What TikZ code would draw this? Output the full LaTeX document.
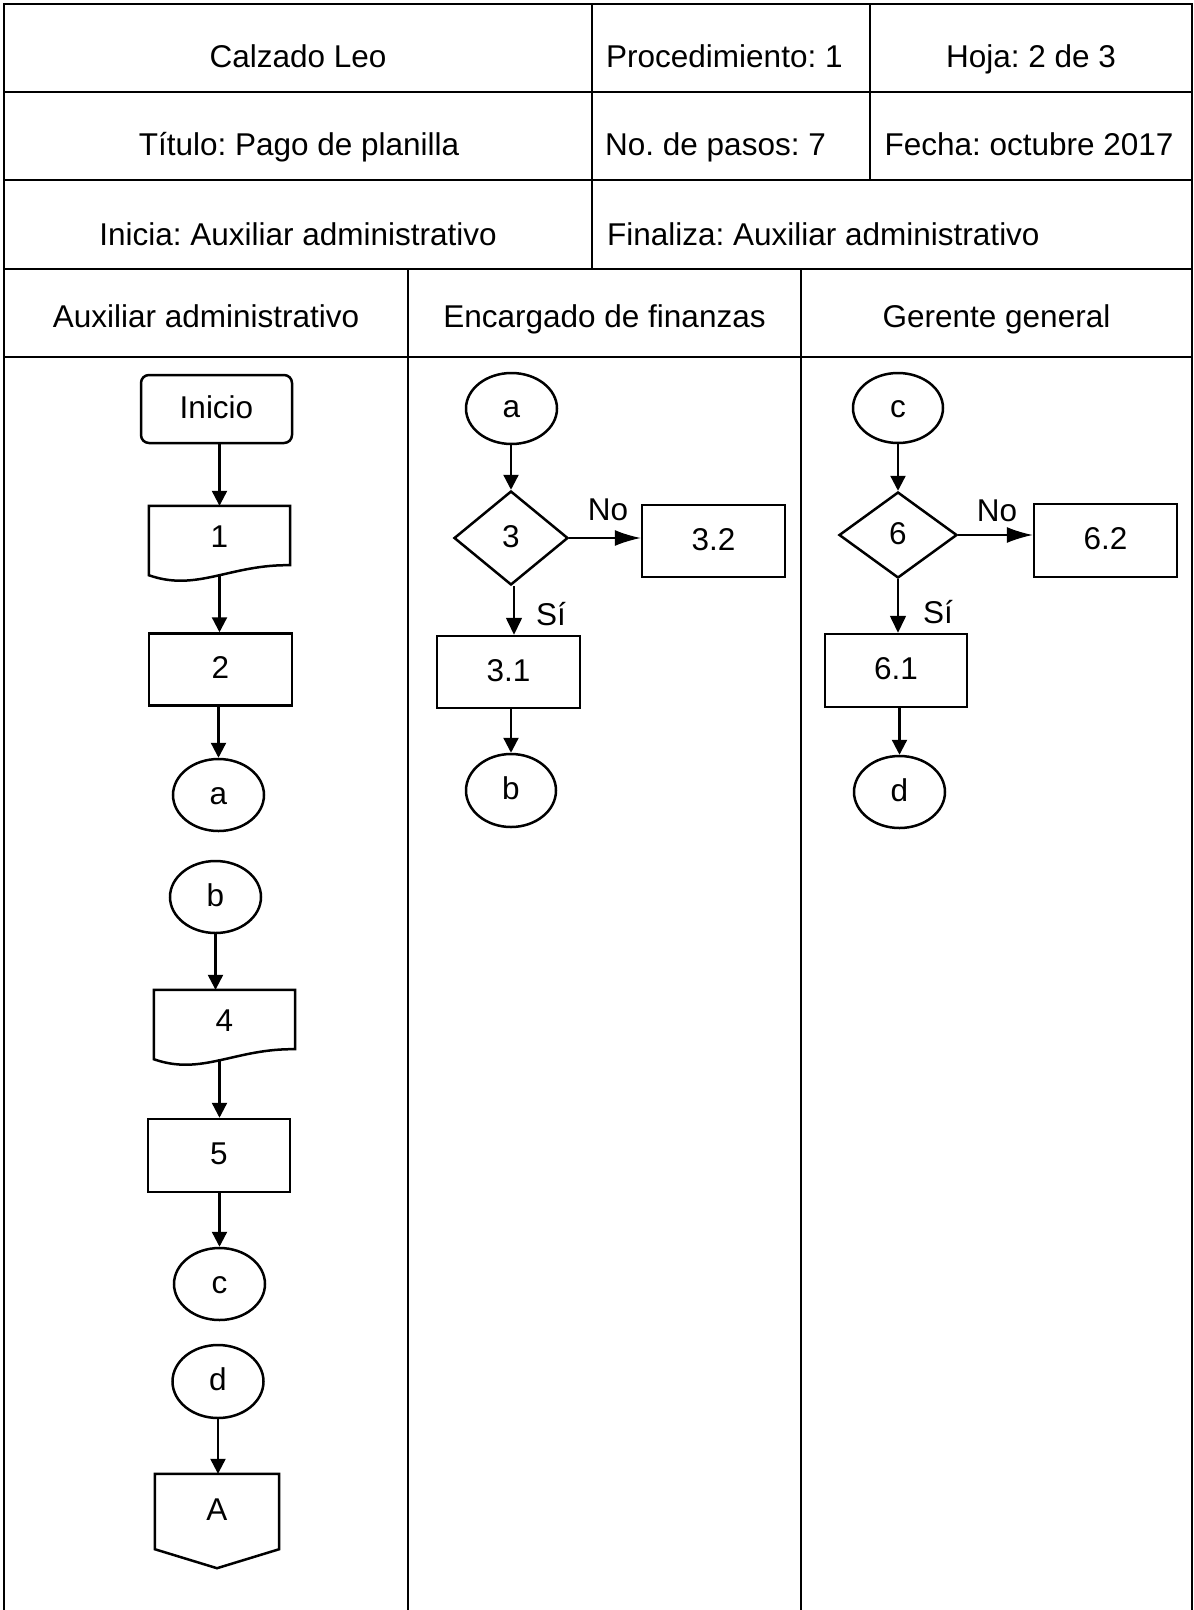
\documentclass[tikz,border=0pt]{standalone}
\usepackage{fontspec}
\setmainfont{Liberation Sans}
\frenchspacing
\usetikzlibrary{shapes.geometric,arrows.meta,calc}

% wavy-bottom document outline around a named node
\newcommand\docoutline[1]{%
  \draw[shapeline, line join=miter] (#1.north west) -- (#1.north east)
    -- ($(#1.south east)+(0,-13)$)
    .. controls ($(#1.south east)+(-60,-14)$) and ($(#1.south west)+(48,14)$) ..
    ($(#1.south west)+(0,-3)$) -- cycle;}
% off-page connector outline around a named node
\newcommand\offpageoutline[1]{%
  \draw[shapeline, line join=miter] (#1.north west) -- (#1.north east)
    -- (#1.south east) -- ($(#1.south)+(0,19)$) -- (#1.south west) -- cycle;}

\begin{document}
\begin{tikzpicture}[x=1pt,y=-1pt,
  every node/.style={font=\fontsize{31.5}{38}\selectfont, inner sep=0pt},
  grid/.style={line width=2.8pt},
  shapeline/.style={line width=2.5pt},
  inner/.style={text height=25pt, text depth=7pt},
  procbox/.style={inner, draw, shapeline, rectangle, minimum width=143pt, minimum height=72pt},
  terminal/.style={inner, draw, shapeline, rectangle, rounded corners=8pt, minimum width=151pt, minimum height=68pt},
  connector/.style={inner, draw, shapeline, ellipse, minimum width=91pt, minimum height=72pt},
  decision/.style={inner, draw, shapeline, diamond, minimum width=116pt, minimum height=92pt},
  docbox/.style={rectangle, text height=20pt, text depth=10pt, minimum width=141pt, minimum height=72pt},
  offpage/.style={inner, rectangle, minimum width=124pt, minimum height=75pt},
  flow/.style={line width=2.3pt, -{Triangle[length=15pt,width=15pt]}},
  nobranch/.style={line width=1.6pt, -{Latex[length=26pt,width=16pt]}},
  yesbranch/.style={line width=1.6pt, -{Triangle[length=17pt,width=16pt]}},
  lbl/.style={anchor=base}
]
\useasboundingbox (0,0) rectangle (1194,1610);

% ---- header table ----
\draw[grid] (4,1610) -- (4,4) -- (1192,4) -- (1192,1610);
\draw[grid] (4,92) -- (1192,92);
\draw[grid] (4,180) -- (1192,180);
\draw[grid] (4,269) -- (1192,269);
\draw[grid] (4,357) -- (1192,357);
\draw[grid] (592,4) -- (592,269);
\draw[grid] (870,4) -- (870,180);
\draw[grid] (408,269) -- (408,1610);
\draw[grid] (801,269) -- (801,1610);

\node[anchor=base] (empresa) at (298,67) {Calzado Leo};
\node[anchor=base west] (proc) at (606,67) {Procedimiento: 1};
\node[anchor=base] (hoja) at (1031,67) {Hoja: 2 de 3};
\node[anchor=base] (titulo) at (299,155) {Título: Pago de planilla};
\node[anchor=base west] (pasos) at (605,155) {No. de pasos: 7};
\node[anchor=base] (fecha) at (1029,155) {Fecha: octubre 2017};
\node[anchor=base] (inicia) at (298,245) {Inicia: Auxiliar administrativo};
\node[anchor=base west] (finaliza) at (607,245) {Finaliza: Auxiliar administrativo};
\node[anchor=base] (lane1) at (206,327) {Auxiliar administrativo};
\node[anchor=base] (lane2) at (604.5,327) {Encargado de finanzas};
\node[anchor=base] (lane3) at (996.5,327) {Gerente general};

% ---- lane 1: Auxiliar administrativo ----
\node[terminal] (inicio) at (216.5,409) {Inicio};
\node[docbox] (p1) at (219.5,542) {1};
\docoutline{p1}
\node[procbox] (p2) at (220.5,669.5) {2};
\node[connector] (la) at (218.5,795) {a};
\node[connector] (lb) at (215.5,897) {b};
\node[docbox] (p4) at (224.5,1026) {4};
\docoutline{p4}
\node[procbox, minimum width=142pt, minimum height=73pt] (p5) at (219,1155.5) {5};
\node[connector] (lc) at (219.5,1284) {c};
\node[connector, minimum height=73pt] (ld) at (218,1381.5) {d};
\node[offpage] (fin) at (217,1511.5) {A};
\offpageoutline{fin}

\draw[flow] (inicio.south -| p1.north) -- (p1.north);
\draw[flow] ($(p1.south)+(0,-3)$) -- (p1.south |- p2.north);
\draw[flow] (p2.south -| la.north) -- (la.north);
\draw[flow] (lb.south) -- (lb.south |- p4.north);
\draw[flow] ($(p4.south)+(-5,-3)$) -- ($(p4.south |- p5.north)+(-5,0)$);
\draw[flow] (p5.south -| lc.north) -- (lc.north);
\draw[flow] (ld.south) -- (ld.south |- fin.north);

% ---- lane 2: Encargado de finanzas ----
\node[connector, minimum height=71pt] (ma) at (511.5,408.5) {a};
\node[decision, minimum width=114pt, minimum height=94pt] (q3) at (511,538) {3};
\node[procbox] (p32) at (713.5,541) {3.2};
\node[procbox] (p31) at (508.5,672) {3.1};
\node[connector, minimum width=90pt, minimum height=73pt] (mb) at (511,790.5) {b};

\draw[flow] (ma.south -| q3.north) -- (q3.north);
\draw[nobranch] (q3.east) -- (q3.east -| p32.west);
\node[lbl] (no3) at (608,520) {No};
\draw[yesbranch] ($(q3.south)+(3,0)$) -- ($(q3.south |- p31.north)+(3,0)$);
\node[lbl] (si3) at (551,625) {Sí};
\draw[flow] (p31.south -| mb.north) -- (mb.north);

% ---- lane 3: Gerente general ----
\node[connector, minimum width=90pt, minimum height=70pt] (gc) at (898,408) {c};
\node[decision, minimum width=118pt, minimum height=86pt] (q6) at (898,535) {6};
\node[procbox, minimum height=73pt] (p62) at (1105.5,540.5) {6.2};
\node[procbox, minimum width=142pt, minimum height=73pt] (p61) at (896,670.5) {6.1};
\node[connector] (gd) at (899.5,792) {d};

\draw[flow] (gc.south) -- (gc.south |- q6.north);
\draw[nobranch] (q6.east) -- (q6.east -| p62.west);
\node[lbl] (no6) at (997,521) {No};
\draw[yesbranch] (q6.south) -- (q6.south |- p61.north);
\node[lbl] (si6) at (938,623) {Sí};
\draw[flow] (p61.south -| gd.north) -- (gd.north);

\end{tikzpicture}
\end{document}
